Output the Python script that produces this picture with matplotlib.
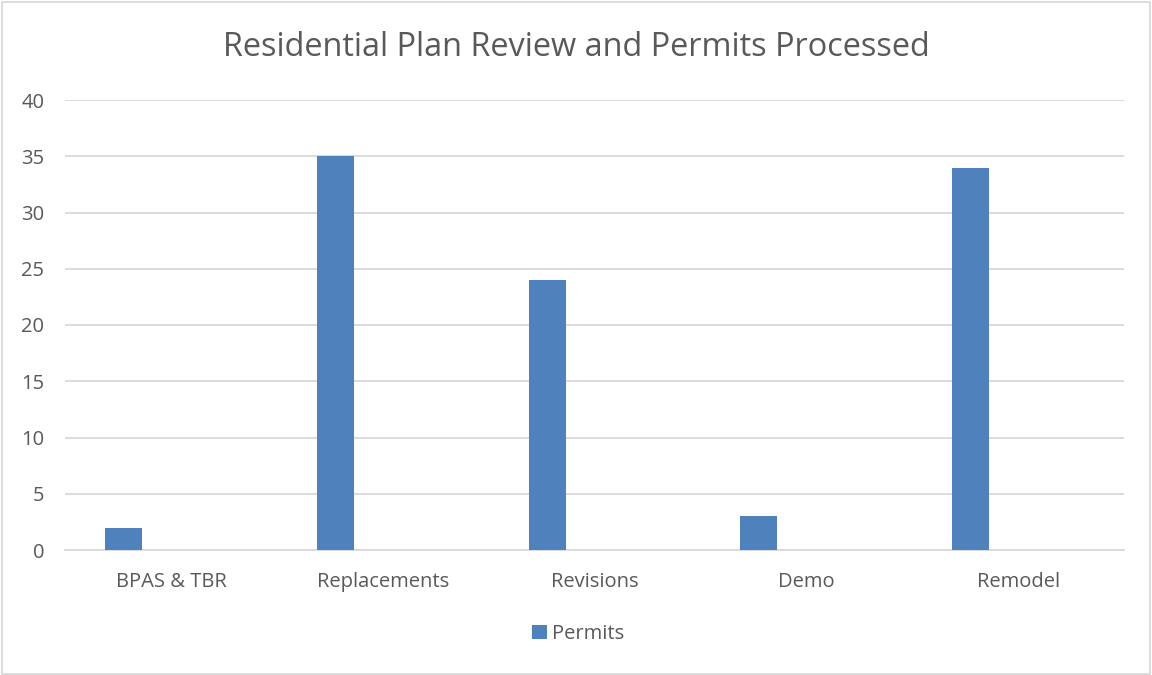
import matplotlib
matplotlib.use('agg')
import matplotlib.pyplot as plt
import numpy as np

# data
categories = ["BPAS & TBR", "Replacements", "Revisions", "Demo", "Remodel"]
permits = [2, 35, 24, 3, 34]
yticks = [0, 5, 10, 15, 20, 25, 30, 35, 40]

plt.rcParams['font.family'] = ['Open Sans', 'DejaVu Sans']
txt = '#595959'
barcol = '#4F81BD'

fig = plt.figure(figsize=(11.52, 6.75), dpi=100)
ax = fig.add_axes([65/1152, 1-550/675, (1124-65)/1152, 450/675])

x = np.arange(len(categories))
# excel style: second (empty) series slot leaves bar left of centre
ax.bar(x - 0.224, permits, width=0.175, color=barcol, label='Permits', zorder=3)

ax.set_xlim(-0.5, len(categories) - 0.5)
ax.set_ylim(0, 40)
ax.set_yticks(yticks)
ax.set_xticks(x)
ax.set_xticklabels(categories)
ax.yaxis.grid(True, color='#d9d9d9', linewidth=1.3, zorder=0)
for s in ['top', 'right', 'left']:
    ax.spines[s].set_visible(False)
ax.spines['bottom'].set_color('#d9d9d9')
ax.spines['bottom'].set_linewidth(1.3)
ax.tick_params(axis='both', length=0, labelsize=14.5, labelcolor=txt)
ax.tick_params(axis='y', pad=15)
ax.tick_params(axis='x', pad=16)

fig.text(0.5, 1-47/675, "Residential Plan Review and Permits Processed",
         ha='center', va='center', fontsize=23.4, color=txt)

fig.legend(*ax.get_legend_handles_labels(), loc='center',
           bbox_to_anchor=(578/1152, 1-634/675), frameon=False,
           fontsize=14.5, labelcolor=txt, handlelength=0.75, handleheight=0.75,
           handletextpad=0.25)

# chart border
fig.patches.append(plt.Rectangle((0.002, 0.002), 0.996, 0.995, transform=fig.transFigure,
                                 fill=False, edgecolor='#d9d9d9', linewidth=1.3))

plt.savefig("out.png")
